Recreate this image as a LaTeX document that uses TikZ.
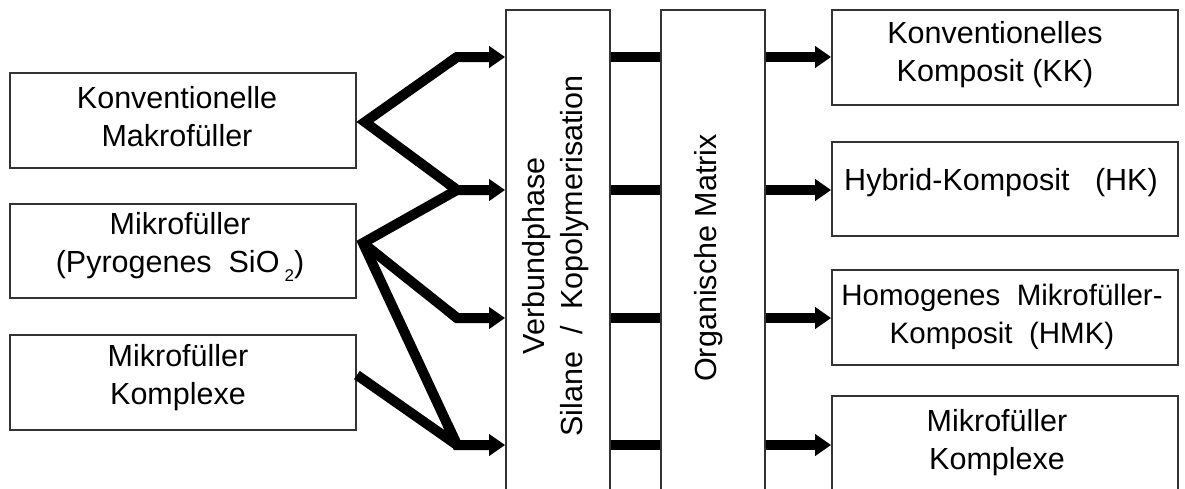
\documentclass[tikz,border=0pt]{standalone}
\usepackage{fontspec}
\setmainfont{Liberation Sans}
\usetikzlibrary{arrows.meta,calc}
\begin{document}
\begin{tikzpicture}[x=1pt,y=-1pt,
  box/.style={draw=black!80,line width=1.8pt,rectangle,inner sep=0pt,
    align=center,font=\fontsize{30.5}{39}\selectfont},
  conn/.style={line width=10pt,line join=miter},
  arr/.style={conn,-{Triangle[length=16pt,width=21pt]}},
  lbl/.style={align=center,font=\fontsize{30.5}{38}\selectfont,inner sep=0pt}]
\useasboundingbox (0,0) rectangle (1185,488);
\clip (0,0) rectangle (1185,488);
\fill[white] (0,0) rectangle (1185,488);

% filler types on the left
\node[box,minimum width=346pt,minimum height=95pt] (lb1) at (183,120.5) {};
\node[box,minimum width=346pt,minimum height=94pt] (lb2) at (183,251) {};
\node[box,minimum width=346pt,minimum height=95pt] (lb3) at (183,382.5) {};
\node[lbl] (t1) at (177,117) {Konventionelle\\Makrofüller};
\node[lbl] (t2) at (180,247) {Mikrofüller\\(Pyrogenes\ \ SiO\,\raisebox{-0.55ex}{\fontsize{17}{17}\selectfont 2})};
\node[lbl] (t3) at (178,378) {Mikrofüller\\Komplexe};

% coupling phase and matrix columns
\node[box,minimum width=104pt,minimum height=500pt] (vb) at (558,260) {};
\node[box,minimum width=104pt,minimum height=500pt] (om) at (713,260) {};
\node[lbl,rotate=90] (tv) at (556,256) {Verbundphase\\Silane\ \ /\ \ Kopolymerisation};
\node[lbl,rotate=90] (to) at (709,258) {Organische Matrix};

% composite classes on the right
\node[box,minimum width=346pt,minimum height=95pt] (rb1) at (1005,57.5) {};
\node[box,minimum width=346pt,minimum height=94pt] (rb2) at (1005,189) {};
\node[box,minimum width=346pt,minimum height=95pt] (rb3) at (1005,317.5) {};
\node[box,minimum width=346pt,minimum height=95pt] (rb4) at (1005,443.5) {};
\node[lbl] (r1) at (995,55) {Konventionelles\\Komposit (KK)};
\node[lbl] (r2) at (1001,183) {Hybrid-Komposit\ \ \ (HK)};
\node[lbl,font=\fontsize{29.5}{38}\selectfont] (r3) at (1002,317) {Homogenes\ \ Mikrofüller-\\Komposit\ \ (HMK)};
\node[lbl] (r4) at (997,443) {Mikrofüller\\Komplexe};

% junction points (shifted so the mitred tips meet the box edges)
\coordinate (s1) at ([xshift=8pt,yshift=-1.5pt]lb1.east);
\coordinate (s2) at ([xshift=6pt,yshift=8pt]lb2.east);
\coordinate (s3) at ([yshift=7.5pt]lb3.east);
\coordinate (k1) at (457,57);
\coordinate (k2) at (457,190);
\coordinate (k3) at (457,318);
\coordinate (k4) at (457,445);

% fillers into the coupling phase
\draw[conn] (k1) -- (s1) -- (k2);
\draw[conn] (k2) -- (s2) -- (k4);
\draw[conn] (s3) -- (k4);
\draw[conn] (s2) -- (k3);
\draw[arr] ($(s1)!0.9!(k1)$) -- (k1) -- (vb.west |- k1);
\draw[arr] ($(s1)!0.9!(k2)$) -- (k2) -- (vb.west |- k2);
\draw[arr] ($(s2)!0.9!(k3)$) -- (k3) -- (vb.west |- k3);
\draw[arr] ($(s2)!0.9!(k4)$) -- (k4) -- (vb.west |- k4);

% coupling phase to matrix
\foreach \k in {k1,k2,k3,k4}
  \draw[conn] (vb.east |- \k) -- (om.west |- \k);

% matrix to composites
\draw[arr] (om.east |- k1) -- (rb1.west |- k1);
\draw[arr] (om.east |- k2) -- (rb2.west |- k2);
\draw[arr] (om.east |- k3) -- (rb3.west |- k3);
\draw[arr] (om.east |- k4) -- (rb4.west |- k4);
\end{tikzpicture}
\end{document}
